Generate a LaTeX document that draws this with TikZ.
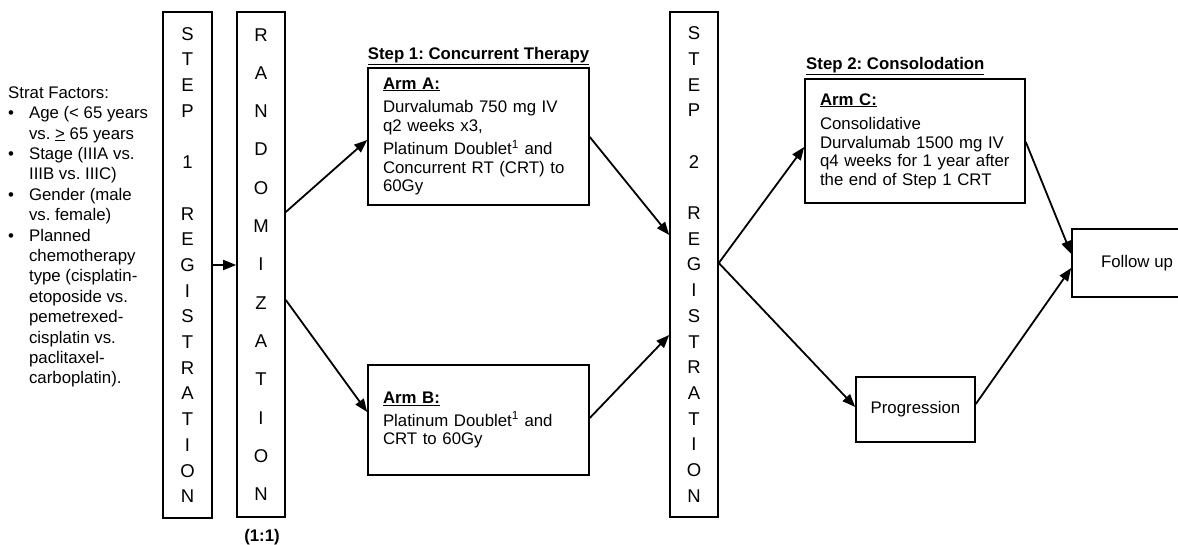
\documentclass[tikz,border=0pt]{standalone}
\usepackage{fontspec}
\setmainfont{Liberation Sans}
\usetikzlibrary{arrows.meta}
\frenchspacing

\begin{document}
\begin{tikzpicture}[x=1pt,y=-1pt,
  >={Triangle[length=13pt,width=10pt]},
  every node/.style={font=\fontsize{16.8}{18.5}\selectfont},
  armbox/.style={draw, line width=1.6pt, align=left, inner xsep=15pt, inner ysep=0pt},
  endbox/.style={draw, line width=1.6pt, align=center, inner sep=0pt},
  regbox/.style={draw, line width=1.6pt, align=center, inner sep=0pt, minimum width=49pt, minimum height=506pt},
  steptitle/.style={font=\fontsize{16.8}{18.5}\selectfont\bfseries, inner sep=0pt},
  link/.style={->, line width=1.8pt}]
\useasboundingbox (0,0) rectangle (1178,545);

% stratification factors
\node[anchor=west, inner sep=0pt, font=\fontsize{16.8}{20.4}\selectfont] (strat) at (8,237) {%
\begin{tabular}{@{}l@{\hspace{15pt}}l@{}}
\multicolumn{2}{@{}l}{Strat Factors:}\\
\textbullet & Age (< 65 years\\
 & vs. \underline{>} 65 years\\
\textbullet & Stage (IIIA vs.\\
 & IIIB vs. IIIC)\\
\textbullet & Gender (male\\
 & vs. female)\\
\textbullet & Planned\\
 & chemotherapy\\
 & type (cisplatin-\\
 & etoposide vs.\\
 & pemetrexed-\\
 & cisplatin vs.\\
 & paclitaxel-\\
 & carboplatin).
\end{tabular}};

% registration and randomization columns
\node[regbox, font=\fontsize{18.5}{25.7}\selectfont] (reg1) at (187.5,265) {S\\T\\E\\P\\~\\1\\~\\R\\E\\G\\I\\S\\T\\R\\A\\T\\I\\O\\N};
\node[regbox, minimum width=48pt, minimum height=505pt, font=\fontsize{18.5}{38.3}\selectfont] (rand) at (261,264.5) {R\\A\\N\\D\\O\\M\\I\\Z\\A\\T\\I\\O\\N};
\node[steptitle] (ratio) at (262,537) {(1:1)};
\node[regbox, minimum width=48pt, minimum height=505pt, font=\fontsize{18.5}{25.7}\selectfont] (reg2) at (694,264.5) {S\\T\\E\\P\\~\\2\\~\\R\\E\\G\\I\\S\\T\\R\\A\\T\\I\\O\\N};

% step 1
\node[steptitle] (step1) at (478.5,56) {\underline{Step 1: Concurrent Therapy}};
\node[armbox, text width=191pt, minimum height=137pt] (armA) at (478.5,136.5) {\underline{\textbf{Arm A:}}\\[5pt]
\mbox{Durvalumab 750 mg IV}\\ q2 weeks x3,\\[5pt]
\mbox{Platinum Doublet\textsuperscript{1} and}\\ \mbox{Concurrent RT (CRT) to}\\ 60Gy};
\node[armbox, text width=191pt, minimum height=110pt] (armB) at (478.5,420) {\underline{\textbf{Arm B:}}\\[4pt]
\mbox{Platinum Doublet\textsuperscript{1} and}\\ CRT to 60Gy};

% step 2
\node[steptitle, anchor=west] (step2) at (806,66) {\underline{Step 2: Consolodation}};
\node[armbox, text width=190pt, minimum height=124pt] (armC) at (915,141) {\underline{\textbf{Arm C:}}\\[6pt]
Consolidative\\ \mbox{Durvalumab 1500 mg IV}\\ \mbox{q4 weeks for 1 year after}\\ \mbox{the end of Step 1 CRT}};
\node[endbox, minimum width=119pt, minimum height=65pt] (prog) at (915.5,409.5) {Progression};
\node[endbox, minimum width=130pt, minimum height=68pt] (follow) at (1137,263) {Follow up};

% arrows
\draw[link] (reg1.east |- 0,265) -- (rand.west |- 0,265);
\draw[link] (rand.east |- 0,212) -- (armA.west |- 0,140);
\draw[link] (rand.east |- 0,300) -- (armB.west |- 0,412);
\draw[link] (armA.east |- 0,137) -- (reg2.west |- 0,235);
\draw[link] (armB.east |- 0,418) -- (reg2.west |- 0,335);
\draw[link] (reg2.east |- 0,263) -- (armC.west |- 0,147);
\draw[link] (reg2.east |- 0,263) -- (prog.west |- 0,407);
\draw[link] (armC.east |- 0,142) -- (follow.west |- 0,254);
\draw[link] (prog.east |- 0,404) -- (follow.west |- 0,268);
\end{tikzpicture}
\end{document}
